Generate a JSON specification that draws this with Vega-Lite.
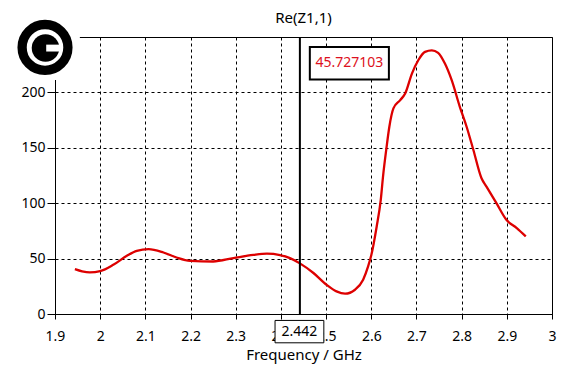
{
  "$schema": "https://vega.github.io/schema/vega-lite/v6.json",
  "autosize": {"type": "none"},
  "width": 497,
  "height": 277,
  "padding": {"left": 55, "top": 37, "right": 34, "bottom": 52},
  "background": "white",
  "title": {"text": "Re(Z1,1)", "fontSize": 15, "fontWeight": "normal", "font": "Noto Sans", "color": "black", "anchor": "middle", "frame": "group", "offset": -20},
  "config": {
    "font": "Noto Sans",
    "view": {"stroke": "black", "strokeWidth": 1},
    "axis": {
      "domainColor": "black", "tickColor": "black", "labelColor": "black", "titleColor": "black",
      "gridColor": "black", "gridDash": [3, 3], "gridOpacity": 1, "gridWidth": 1,
      "labelFont": "Noto Sans", "titleFont": "Noto Sans", "labelFontSize": 14, "titleFontSize": 15, "titleFontWeight": "normal"
    }
  },
  "datasets": {
    "curve": [
      {"f": 1.944, "v": 40.5}, {"f": 1.960, "v": 38.5}, {"f": 1.977, "v": 37.5}, {"f": 2.000, "v": 38.7},
      {"f": 2.029, "v": 44.4}, {"f": 2.059, "v": 52.5}, {"f": 2.081, "v": 57.0}, {"f": 2.107, "v": 58.5},
      {"f": 2.140, "v": 55.5}, {"f": 2.169, "v": 51.0}, {"f": 2.199, "v": 48.0}, {"f": 2.250, "v": 47.4},
      {"f": 2.295, "v": 50.5}, {"f": 2.339, "v": 53.4}, {"f": 2.369, "v": 54.5}, {"f": 2.398, "v": 53.2},
      {"f": 2.420, "v": 50.4}, {"f": 2.442, "v": 45.7}, {"f": 2.472, "v": 37.0}, {"f": 2.501, "v": 26.4},
      {"f": 2.523, "v": 20.4}, {"f": 2.542, "v": 18.3}, {"f": 2.564, "v": 21.9}, {"f": 2.582, "v": 31.0},
      {"f": 2.593, "v": 43.0}, {"f": 2.600, "v": 53.0}, {"f": 2.612, "v": 79.0}, {"f": 2.621, "v": 103.0},
      {"f": 2.626, "v": 124.0}, {"f": 2.634, "v": 151.0}, {"f": 2.640, "v": 169.0}, {"f": 2.649, "v": 185.6},
      {"f": 2.664, "v": 193.0}, {"f": 2.675, "v": 199.0}, {"f": 2.690, "v": 217.0}, {"f": 2.704, "v": 229.0},
      {"f": 2.719, "v": 236.6}, {"f": 2.734, "v": 238.0}, {"f": 2.748, "v": 235.7}, {"f": 2.763, "v": 226.0},
      {"f": 2.778, "v": 211.0}, {"f": 2.796, "v": 187.0}, {"f": 2.811, "v": 169.0}, {"f": 2.826, "v": 148.0},
      {"f": 2.844, "v": 122.5}, {"f": 2.855, "v": 115.0}, {"f": 2.877, "v": 100.0}, {"f": 2.899, "v": 85.0},
      {"f": 2.922, "v": 77.5}, {"f": 2.942, "v": 70.0}
    ],
    "marker": [{"f": 2.442, "v": 45.727103, "label": "45.727103", "flabel": "2.442"}]
  },
  "layer": [
    {
      "data": {"name": "curve"},
      "mark": {"type": "line", "color": "#dd0000", "strokeWidth": 2.3, "interpolate": "monotone", "clip": false},
      "encoding": {
        "x": {"field": "f", "type": "quantitative",
              "scale": {"domain": [1.9, 3.0], "nice": false, "zero": false},
              "axis": {"values": [1.9, 2, 2.1, 2.2, 2.3, 2.4, 2.5, 2.6, 2.7, 2.8, 2.9, 3], "format": "~g",
                       "labelFlush": false, "labelOverlap": false,
                       "tickSize": 5, "labelPadding": 10, "title": "Frequency / GHz", "titlePadding": 4}},
        "y": {"field": "v", "type": "quantitative",
              "scale": {"domain": [0, 250], "nice": false, "zero": true},
              "axis": {"values": [0, 50, 100, 150, 200], "format": "d", "labelFlush": false, "tickSize": 8, "labelPadding": 2, "title": null}}
      }
    },
    {
      "data": {"name": "marker"},
      "mark": {"type": "rule", "color": "black", "strokeWidth": 2},
      "encoding": {"x": {"field": "f", "type": "quantitative"}}
    },
    {
      "data": {"values": [{}]},
      "mark": {"type": "rect", "fill": "white", "stroke": "black", "strokeWidth": 2, "clip": false},
      "encoding": {
        "x": {"datum": 2.464, "type": "quantitative"}, "x2": {"datum": 2.639},
        "y": {"datum": 211.7, "type": "quantitative"}, "y2": {"datum": 241}
      }
    },
    {
      "data": {"name": "marker"},
      "mark": {"type": "text", "color": "#dd1020", "fontSize": 14, "align": "center", "baseline": "middle", "clip": false},
      "encoding": {
        "x": {"datum": 2.5515, "type": "quantitative"},
        "y": {"datum": 226.4, "type": "quantitative"},
        "text": {"field": "label"}
      }
    },
    {
      "data": {"values": [{}]},
      "mark": {"type": "rect", "fill": "white", "stroke": "black", "strokeWidth": 1, "clip": false},
      "encoding": {
        "x": {"datum": 2.387, "type": "quantitative"}, "x2": {"datum": 2.495},
        "y": {"datum": -5.8, "type": "quantitative"}, "y2": {"datum": -26}
      }
    },
    {
      "data": {"name": "marker"},
      "mark": {"type": "text", "color": "black", "fontSize": 14, "align": "center", "baseline": "middle", "clip": false},
      "encoding": {
        "x": {"datum": 2.441, "type": "quantitative"},
        "y": {"datum": -15.9, "type": "quantitative"},
        "text": {"field": "flabel"}
      }
    },
    {
      "data": {"values": [{}]},
      "mark": {"type": "rect", "fill": "white", "clip": false},
      "encoding": {
        "x": {"datum": 1.76, "type": "quantitative"}, "x2": {"datum": 1.955},
        "y": {"datum": 211.1, "type": "quantitative"}, "y2": {"datum": 262}
      }
    },
    {
      "data": {"values": [{}]},
      "mark": {"type": "point", "shape": "circle", "filled": false, "stroke": "black", "strokeWidth": 9.3, "size": 2098, "opacity": 1, "clip": false},
      "encoding": {"x": {"datum": 1.8779, "type": "quantitative"}, "y": {"datum": 240.6, "type": "quantitative"}}
    },
    {
      "data": {"values": [{}]},
      "mark": {"type": "point", "shape": "circle", "filled": true, "fill": "black", "size": 760, "opacity": 1, "clip": false},
      "encoding": {"x": {"datum": 1.8790, "type": "quantitative"}, "y": {"datum": 240.0, "type": "quantitative"}}
    },
    {
      "data": {"values": [{}]},
      "mark": {"type": "point", "shape": "M0.05,-0.25L1.2,-0.25L1.2,0.25L0.05,0.25Z", "filled": true, "fill": "white", "size": 760, "opacity": 1, "clip": false},
      "encoding": {"x": {"datum": 1.8790, "type": "quantitative"}, "y": {"datum": 240.0, "type": "quantitative"}}
    }
  ]
}
